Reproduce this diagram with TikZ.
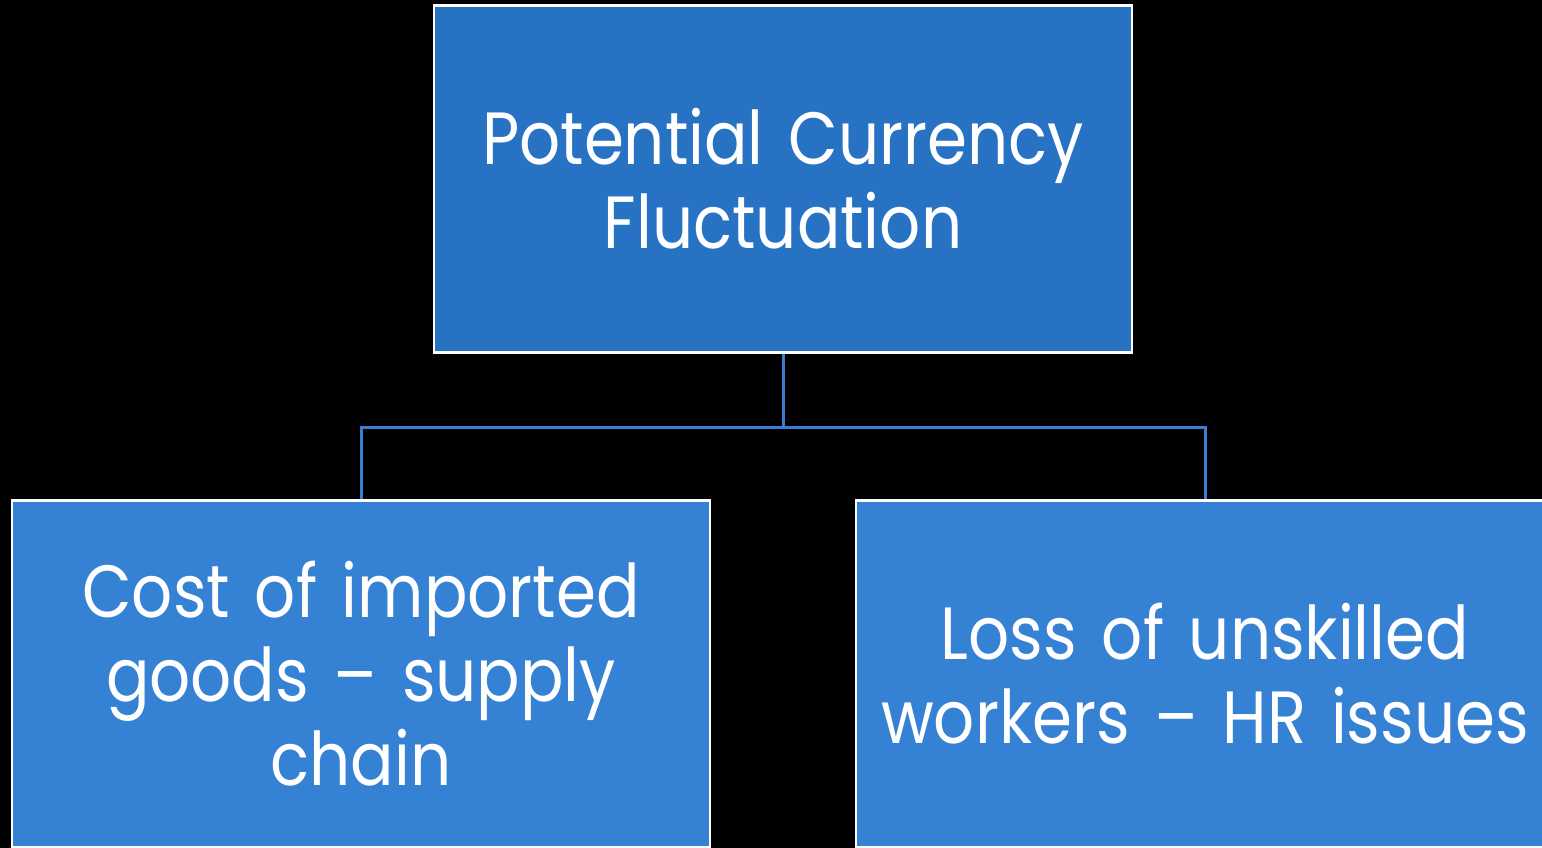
\documentclass[tikz,border=0pt]{standalone}
\usepackage{fontspec}
\setmainfont{Poppins}[FakeStretch=0.87]
\usetikzlibrary{positioning}

\begin{document}
\begin{tikzpicture}[x=1pt,y=-1pt]
\tikzstyle{box}=[draw=white,line width=2.5pt,inner sep=0pt,minimum width=698pt,minimum height=347pt,text width=680pt,align=center,text=white,font=\fontsize{74}{84}\selectfont]
\tikzstyle{link}=[draw={rgb,255:red,58;green,127;blue,207},line width=3pt]
\definecolor{topblue}{RGB}{40,114,196}
\definecolor{lowblue}{RGB}{53,129,212}
\fill [black] (0,0) rectangle (1542,848);
\path [use as bounding box,clip] (0,0) rectangle (1542,848);
% top box
\node [box,fill=topblue] (currency) at (783,179) {Potential Currency\\Fluctuation};
% two consequences
\node [box,fill=lowblue] (imports) at (361,674) {Cost of imported\\goods -- supply\\chain};
\node [box,fill=lowblue] (workers) at (1205,674) {Loss of unskilled\\workers -- HR issues};
\coordinate (split) at (783,427);
\draw [link] (currency.south) -- (split) -| (imports.north);
\draw [link] (split) -| (workers.north);
\end{tikzpicture}
\end{document}
